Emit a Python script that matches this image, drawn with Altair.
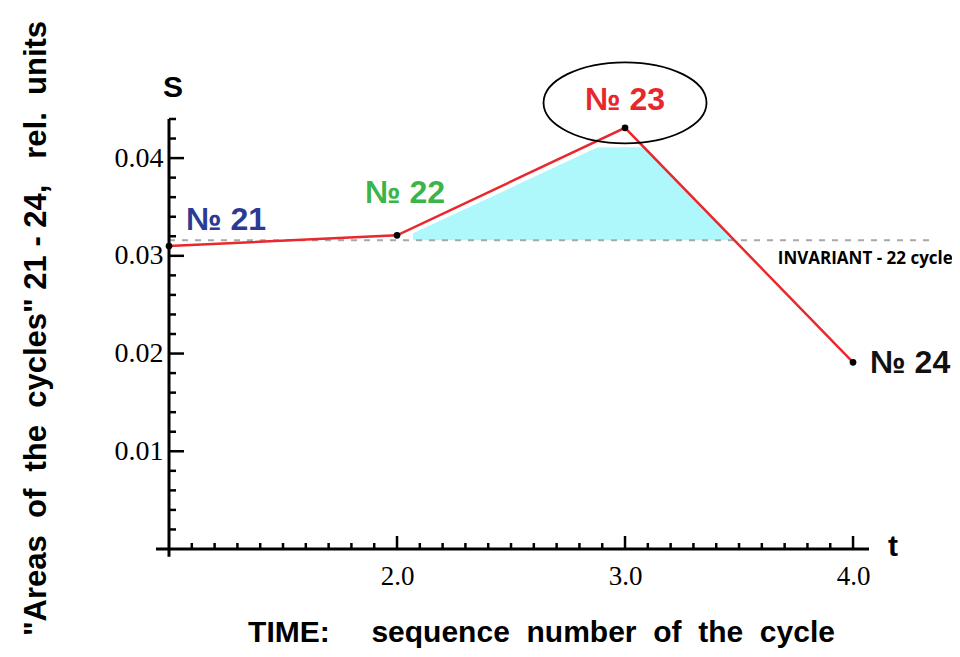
import altair as alt
import pandas as pd

# ---- data ----
cycles = [1.0, 2.0, 3.0, 4.0]
areas = [0.0310, 0.0321, 0.0431, 0.0191]
labels = ["№ 21", "№ 22", "№ 23", "№ 24"]
invariant = 0.0316
fill_t = [2.07, 2.88, 3.08, 3.47]
fill_top = [0.0323, 0.0411, 0.0411, 0.0316]
x_major = [2.0, 3.0, 4.0]
y_major = [0.01, 0.02, 0.03, 0.04]
x_minor = [round(1.0 + 0.1 * i, 1) for i in range(1, 31) if i % 10 != 0]
y_minor = [round(0.002 * i, 3) for i in range(1, 23) if i % 5 != 0]

NB = "\u00a0"
x_title = "TIME:" + NB * 4 + " sequence" + NB + " number" + NB + " of" + NB + " the" + NB + " cycle"
y_title = ('"Areas' + NB + " of" + NB + " the" + NB + ' cycles" 21 - 24,' + NB * 2
           + " rel." + NB + " units")

W, H = 700, 430
xs = alt.Scale(domain=[1.0, 4.07], nice=False, zero=False)
ys = alt.Scale(domain=[0.0, 0.044], nice=False, zero=False)
SANS = "Liberation Sans"
SERIF = "Liberation Serif"

x_axis = alt.Axis(values=x_major, format=".1f", domain=False, ticks=False, tickSize=0, grid=False,
                  labelFont=SERIF, labelFontSize=27, labelColor="black", labelPadding=14,
                  title=x_title, titleFont=SANS,
                  titleFontSize=30, titleFontWeight="bold", titleColor="black",
                  titleX=372, titleY=92, titleAlign="center", titleBaseline="alphabetic")
y_axis = alt.Axis(values=y_major, format=".2f", domain=False, ticks=False, tickSize=0, grid=False,
                  labelFont=SERIF, labelFontSize=28, labelColor="black", labelPadding=6,
                  title=y_title, titleFont=SANS,
                  titleFontSize=31, titleFontWeight="bold", titleColor="black",
                  titleAngle=270, titleX=-124, titleY=209, titleAlign="center",
                  titleBaseline="alphabetic")


def X(field=None, datum=None):
    if datum is not None:
        return alt.X(datum=datum, type="quantitative", scale=xs, axis=x_axis)
    return alt.X(field, type="quantitative", scale=xs, axis=x_axis)


def Y(field=None, datum=None):
    if datum is not None:
        return alt.Y(datum=datum, type="quantitative", scale=ys, axis=y_axis)
    return alt.Y(field, type="quantitative", scale=ys, axis=y_axis)


dummy = pd.DataFrame({"a": [0]})
pts = pd.DataFrame({"t": cycles, "s": areas, "label": labels})

fill = alt.Chart(pd.DataFrame({"t": fill_t, "s": fill_top})).mark_area(
    color="#aef7fa", opacity=1, interpolate="linear").encode(
    x=X("t"), y=Y("s"), y2=alt.Y2(datum=invariant),
)

inv_line = alt.Chart(dummy).mark_rule(color="#a8a8a8", strokeWidth=2, strokeDash=[6, 7]).encode(
    x=X(datum=1.0), x2=alt.X2(datum=4.35), y=Y(datum=invariant),
)

x_line = alt.Chart(dummy).mark_rule(color="black", strokeWidth=3).encode(
    x=X(datum=0.943), x2=alt.X2(datum=4.07), y=Y(datum=0.0),
)
y_line = alt.Chart(dummy).mark_rule(color="black", strokeWidth=3).encode(
    x=X(datum=1.0), y=Y(datum=-0.0008), y2=alt.Y2(datum=0.044),
)


def xticks(vals, size):
    return alt.Chart(pd.DataFrame({"t": vals})).mark_tick(
        orient="vertical", size=size, thickness=2.5, yOffset=-size / 2,
        color="black", opacity=1).encode(x=X("t"), y=Y(datum=0.0))


def yticks(vals, size):
    return alt.Chart(pd.DataFrame({"s": vals})).mark_tick(
        orient="horizontal", size=size, thickness=2.5, xOffset=size / 2,
        color="black", opacity=1).encode(x=X(datum=1.0), y=Y("s"))


line = alt.Chart(pts).mark_line(color="#e8282c", strokeWidth=2.5).encode(x=X("t"), y=Y("s"))
dots = alt.Chart(pts).mark_circle(size=45, color="black", opacity=1).encode(x=X("t"), y=Y("s"))


def label(i, color, dx, dy, align):
    return alt.Chart(pts.iloc[[i]]).mark_text(
        font=SANS, fontSize=32, fontWeight="bold", color=color, align=align,
        baseline="middle", dx=dx, dy=dy).encode(x=X("t"), y=Y("s"), text="label:N")


lab21 = label(0, "#2b3a93", 17, -26, "left")
lab22 = label(1, "#3cb44a", 8, -42, "center")
lab23 = label(2, "#e8262b", 0, -28, "center")
lab24 = label(3, "#111111", 17, 1, "left")

ellipse = alt.Chart(pts.iloc[[2]]).mark_point(
    shape="M-1,0A1,0.497,0,1,1,1,0A1,0.497,0,1,1,-1,0Z",
    size=26569, filled=False, color="black", strokeWidth=1.8, opacity=1).encode(
    x=X("t"), y=Y("s"), yOffset=alt.value(-25),
)

s_text = alt.Chart(dummy).mark_text(
    text="S", font=SANS, fontSize=30, fontWeight="bold", color="black",
    align="center", baseline="middle", dx=4, dy=-31).encode(x=X(datum=1.0), y=Y(datum=0.044))
t_text = alt.Chart(dummy).mark_text(
    text="t", font=SANS, fontSize=30, fontWeight="bold", color="black",
    align="center", baseline="middle", dx=24, dy=-2).encode(x=X(datum=4.07), y=Y(datum=0.0))
inv_text = alt.Chart(dummy).mark_text(
    text="INVARIANT - 22 cycle", font="Open Sans", fontSize=17, fontWeight="bold",
    color="black", align="left", baseline="middle", dy=19).encode(
    x=X(datum=3.67), y=Y(datum=invariant))

chart = alt.layer(
    fill, inv_line, x_line, y_line,
    xticks(x_minor, 6), xticks(x_major, 13), yticks(y_minor, 7), yticks(y_major, 15),
    line, dots, lab21, lab22, lab23, lab24, ellipse, s_text, t_text, inv_text,
).properties(
    width=W, height=H,
    autosize=alt.AutoSizeParams(type="none"),
    padding={"left": 161, "top": 111, "right": 83, "bottom": 99},
    background="white",
).configure_view(stroke=None)

chart.save("out.html", embed_options={"renderer": "svg", "actions": False})
